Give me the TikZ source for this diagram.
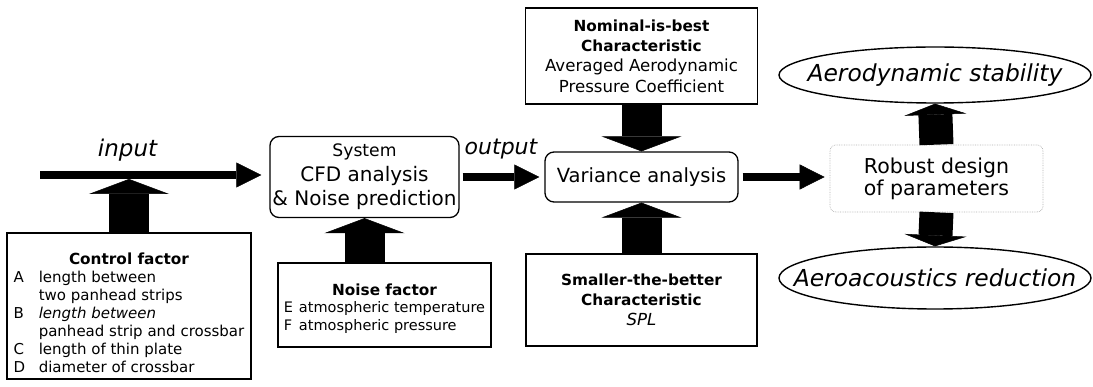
\documentclass[tikz,border=0pt]{standalone}
\usepackage{fontspec}
\setmainfont{DejaVu Sans}
\usepackage{tikz}
\usetikzlibrary{arrows.meta,positioning,shapes.geometric}
\newcommand{\hd}{\fontsize{15.3}{18}\selectfont\bfseries}
\tikzset{
  factorbox/.style={draw, line width=1.4pt, fill=white, inner sep=0pt},
  procbox/.style={draw, line width=1.3pt, rounded corners=9pt, fill=white, inner sep=0pt},
  goalbox/.style={draw=gray!60, densely dotted, line width=0.7pt, rounded corners=6pt, inner sep=0pt},
  goalell/.style={draw, ellipse, line width=1.4pt, inner sep=0pt, font=\fontsize{23.4}{26}\selectfont\itshape},
  flowarr/.style={line width=8pt, -{Triangle[length=25pt,width=25pt,line width=0.5pt]}},
  blockarr/.style={line width=40pt, -{Triangle[length=15pt,width=80pt,line width=0.5pt]}},
  goalarr/.style={line width=34pt, -{Triangle[length=11pt,width=62pt,line width=0.5pt]}},
}

\begin{document}
\begin{tikzpicture}[x=1pt,y=-1pt]
\path[use as bounding box, fill=white] (0,0) rectangle (1093,387);
% Process boxes
\node[procbox, minimum width=189, minimum height=81, align=center, font=\fontsize{20}{24.5}\selectfont] (sys) at (364.5,177)
  {{\fontsize{17.2}{20}\selectfont System}\\CFD analysis\\\& Noise prediction};
\node[procbox, minimum width=193, minimum height=50, font=\fontsize{19.5}{23}\selectfont] (var) at (641.5,177) {Variance analysis};
% Factor boxes
\node[factorbox, minimum width=244, minimum height=146, font=\fontsize{15}{18}\selectfont] (ctrl) at (129,306)
  {\begin{tabular}{@{}l@{\hspace{13.5pt}}l@{}}
    \multicolumn{2}{c}{\rule{0pt}{29.6pt}\hd Control factor}\\
    A & length between\\
      & two panhead strips\\
    B & \textit{length between}\\
      & panhead strip and crossbar\\
    C & length of thin plate\\
    D & diameter of crossbar
  \end{tabular}};
\node[factorbox, minimum width=213, minimum height=84, font=\fontsize{14.5}{17.5}\selectfont] (noise) at (384.5,305)
  {\begin{tabular}{@{}l@{\hspace{6pt}}l@{}}
    \multicolumn{2}{c}{\rule{0pt}{21pt}\hd Noise factor}\\
    E & atmospheric temperature\\
    F & atmospheric pressure
  \end{tabular}};
% Characteristics
\node[factorbox, minimum width=232, minimum height=96, align=center, font=\fontsize{16.6}{20.3}\selectfont] (nom) at (641.5,56)
  {{\hd Nominal-is-best}\\{\hd Characteristic}\\Averaged Aerodynamic\\Pressure Coefficient};
\node[factorbox, minimum width=231, minimum height=92, align=center, font=\fontsize{16.6}{20}\selectfont] (small) at (641.5,300)
  {{\hd Smaller-the-better}\\{\hd Characteristic}\\\textit{SPL}};
% Goals
\node[goalbox, minimum width=213, minimum height=67, align=center, font=\fontsize{20.5}{22}\selectfont] (robust) at (936.5,178.5)
  {Robust design\\of parameters};
\node[goalell, minimum width=312, minimum height=56] (stab) at (935,75) {\makebox[0pt]{Aerodynamic stability}};
\node[goalell, minimum width=312, minimum height=62] (acou) at (935,278) {\makebox[0pt]{Aeroacoustics reduction}};
% Flow arrows
\coordinate (in0) at (40,175);
\coordinate (inhit) at (129,179);
\draw[flowarr, shorten >=8pt] (in0) -- (in0 -| sys.west);
\draw[flowarr, shorten <=3pt, shorten >=5pt] (sys.east) -- (var.west);
\draw[flowarr, shorten <=4pt, shorten >=5pt] (var.east) -- (var.east -| robust.west);
\node[font=\fontsize{23}{26}\selectfont\itshape, inner sep=0pt] (inlab) at (127.5,150) {input};
\node[font=\fontsize{22}{26}\selectfont\itshape, inner sep=0pt] (outlab) at (501,149) {output};
% Block arrows
\draw[blockarr] (ctrl.north) -- (inhit);
\draw[blockarr] (noise.north -| sys.south) -- (sys.south);
\foreach \a/\b in {nom.south/var.north, small.north/var.south}
  \draw[blockarr] (\a) -- (\b);
\foreach \a/\b in {robust.north/stab.south, robust.south/acou.north}
  \draw[goalarr] (\a) -- (\b);
\end{tikzpicture}
\end{document}
